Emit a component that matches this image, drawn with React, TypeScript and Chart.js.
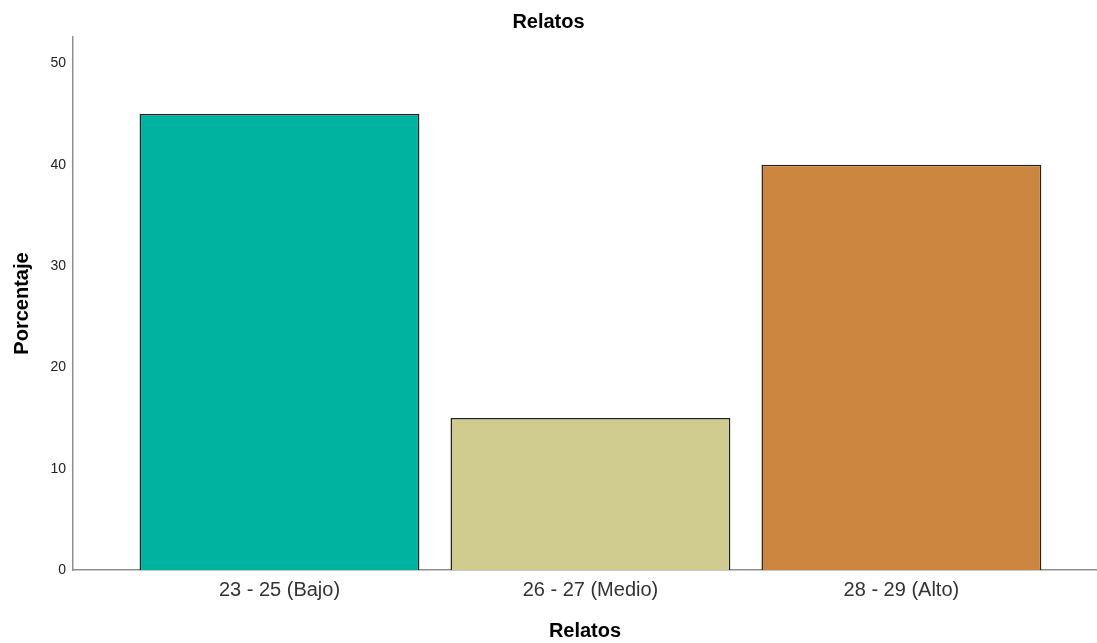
import React, { useEffect, useRef } from "react";
import { Chart, registerables } from "chart.js";

Chart.register(...registerables);

const titleText = "Relatos";
const xAxisTitle = "Relatos";
const yAxisTitle = "Porcentaje";
const categories = ["23 - 25 (Bajo)", "26 - 27 (Medio)", "28 - 29 (Alto)"];
const percentages = [45, 15, 40];
const barColors = ["#00B3A0", "#D0CB8F", "#CD8640"];
const yTicks = [0, 10, 20, 30, 40, 50];

export default function App() {
  const canvasRef = useRef<HTMLCanvasElement | null>(null);

  useEffect(() => {
    if (!canvasRef.current) return;
    const font = "'Liberation Sans', Arial, Helvetica, sans-serif";
    const chart = new Chart(canvasRef.current, {
      type: "bar",
      data: {
        datasets: [
          {
            label: titleText,
            data: percentages.map((v, i) => ({ x: i, y: v })),
            backgroundColor: barColors,
            borderColor: "#222",
            borderWidth: 1.5,
            barPercentage: 0.9,
            categoryPercentage: 1,
          },
        ],
      },
      options: {
        animation: false,
        responsive: false,
        maintainAspectRatio: false,
        layout: { padding: 0 },
        plugins: {
          legend: { display: false },
          tooltip: { enabled: false },
          title: {
            display: true,
            text: titleText,
            color: "#000",
            font: { family: font, size: 20, weight: "bold" },
            padding: { top: 10, bottom: 3 },
          },
        },
        scales: {
          x: {
            type: "linear",
            offset: false,
            min: -0.664,
            max: 2.629,
            grid: { display: false, drawTicks: false, offset: false },
            border: { display: true, color: "#8f8f8f", width: 1.5 },
            ticks: {
              includeBounds: false,
              autoSkip: false,
              maxRotation: 0,
              padding: 8,
              color: "#333",
              font: { family: font, size: 20 },
              callback: (value: any) => categories[Number(value)] ?? "",
            },
            afterBuildTicks: (scale: any) => {
              scale.ticks = categories.map((_, i) => ({ value: i }));
            },
            afterFit: (scale: any) => {
              scale.height = 73;
            },
            title: {
              display: true,
              text: xAxisTitle,
              color: "#000",
              font: { family: font, size: 20, weight: "bold" },
              padding: { top: 0, bottom: 0 },
            },
          },
          y: {
            min: 0,
            max: 52.6,
            grid: { display: false, drawTicks: false },
            border: { display: true, color: "#8f8f8f", width: 1.5 },
            ticks: {
              includeBounds: false,
              padding: 7,
              color: "#222",
              font: { family: font, size: 14 },
              stepSize: 10,
            },
            afterBuildTicks: (scale: any) => {
              scale.ticks = yTicks.map((v) => ({ value: v }));
            },
            afterFit: (scale: any) => {
              scale.width = 73;
            },
            title: {
              display: true,
              text: yAxisTitle,
              color: "#000",
              font: { family: font, size: 20, weight: "bold" },
              padding: { top: 10, bottom: 0 },
            },
          },
        },
      },
    } as any);
    return () => chart.destroy();
  }, []);

  return (
    <div style={{ position: "absolute", left: 0, top: 0, width: 1097, height: 643, background: "#fff" }}>
      <canvas ref={canvasRef} width={1097} height={643} style={{ display: "block" }} />
    </div>
  );
}
